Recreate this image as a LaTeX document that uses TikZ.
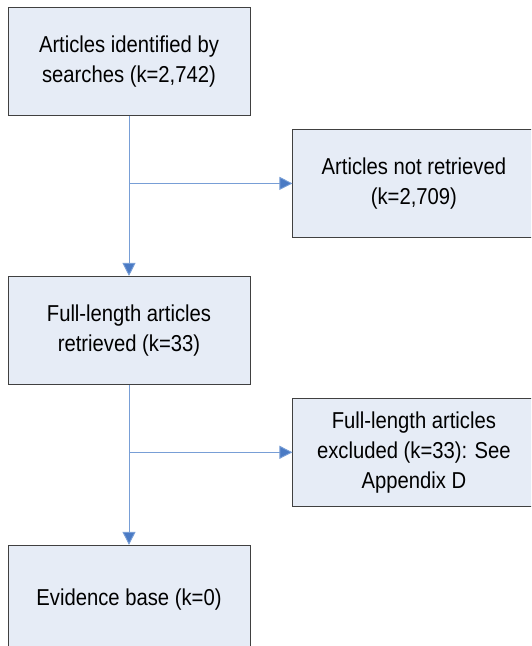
\documentclass[tikz,border=0pt]{standalone}
\usepackage{fontspec}
\setmainfont[FakeStretch=0.88]{Liberation Sans}
\usepackage{xcolor}
\usetikzlibrary{arrows.meta,positioning}

\definecolor{boxfill}{RGB}{230,236,246}
\definecolor{arrowblue}{RGB}{74,122,196}
\definecolor{linkblue}{RGB}{120,158,214}

\begin{document}
\begin{tikzpicture}[x=1pt, y=1pt,
  box/.style={draw=black!75, line width=0.9pt, fill=boxfill, minimum width=242pt, minimum height=108pt, inner sep=0pt, align=center, font=\fontsize{23}{30}\selectfont},
  arrow/.style={-{Triangle[length=13pt,width=13pt,fill=arrowblue]}, line width=0.9pt, draw=linkblue},
]
\clip (0,0) rectangle (531,-646);

\node[box] (ident) at (129,-61.5) {Articles identified by\\searches (k=2,742)};
\node[box, below right=13pt and 42pt of ident] (notret) {Articles not retrieved\\(k=2,709)};
\node[box, below=160pt of ident] (fulltext) {Full-length articles\\retrieved (k=33)};
\node[box, below right=13pt and 42pt of fulltext] (excl) {Full-length articles\\excluded (k=33): See\\Appendix D};
\node[box, below=160pt of fulltext] (evid) {Evidence base (k=0)};

\draw[arrow] (ident) -- (fulltext);
\draw[arrow] (ident.south |- notret.west) -- (notret.west);
\draw[arrow] (fulltext) -- (evid);
\draw[arrow] (fulltext.south |- excl.west) -- (excl.west);

\end{tikzpicture}
\end{document}
